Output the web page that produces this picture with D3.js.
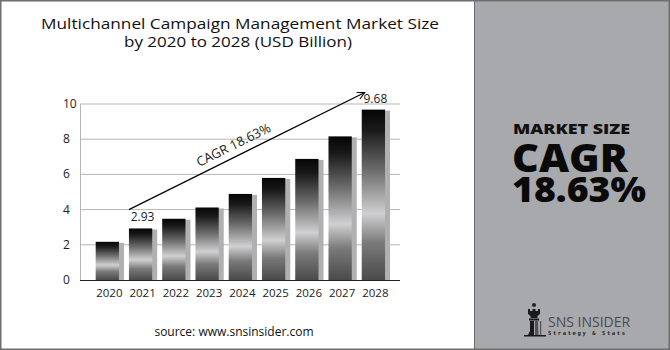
<!DOCTYPE html>
<html>
<head>
<meta charset="utf-8">
<script src="https://cdn.jsdelivr.net/npm/d3@7"></script>
<style>
  body { margin: 0; background: #fff; }
  svg { display: block; }
</style>
</head>
<body>
<div id="chart"></div>
<script>
// chart data
var years = ["2020", "2021", "2022", "2023", "2024", "2025", "2026", "2027", "2028"];
var marketSize = [2.17, 2.93, 3.48, 4.12, 4.89, 5.80, 6.88, 8.16, 9.68];
var yTicks = [0, 2, 4, 6, 8, 10];
var labelled = {"2021": "2.93", "2028": "9.68"};
var cagrText = "CAGR 18.63%";

var width = 670, height = 350;

var svg = d3.select("#chart")
  .append("svg")
    .attr("width", width)
    .attr("height", height);

var defs = svg.append("defs");

// bar shading: black on top, light band lower down, grey at the base
var grad = defs.append("linearGradient")
    .attr("id", "barGrad")
    .attr("x1", 0).attr("y1", 0).attr("x2", 0).attr("y2", 1);
grad.append("stop").attr("offset", "0%").attr("stop-color", "#050505");
grad.append("stop").attr("offset", "12%").attr("stop-color", "#1a1a1a");
grad.append("stop").attr("offset", "35%").attr("stop-color", "#6a6a6a");
grad.append("stop").attr("offset", "61%").attr("stop-color", "#d0d0d2");
grad.append("stop").attr("offset", "78%").attr("stop-color", "#7a7a7a");
grad.append("stop").attr("offset", "100%").attr("stop-color", "#4a4a4a");

defs.append("marker")
    .attr("id", "arrowHead")
    .attr("viewBox", "0 0 10 10")
    .attr("refX", 9).attr("refY", 5)
    .attr("markerWidth", 9).attr("markerHeight", 9)
    .attr("markerUnits", "userSpaceOnUse")
    .attr("orient", "auto")
  .append("path")
    .attr("d", "M1,1 L9,5 L1,9")
    .attr("fill", "none")
    .attr("stroke", "#000")
    .attr("stroke-width", 1.2);

// scales
var x = d3.scaleBand()
    .domain(years)
    .range([85.7, 395])
    .paddingInner(0.3)
    .paddingOuter(0.3);

var y = d3.scaleLinear()
    .domain([0, 10])
    .range([280, 104]);

// grid lines
svg.append("g")
  .selectAll("line")
  .data(yTicks.filter(function(d) { return d > 0; }))
  .enter()
  .append("line")
    .attr("x1", 80).attr("x2", 400)
    .attr("y1", function(d) { return y(d); })
    .attr("y2", function(d) { return y(d); })
    .attr("stroke", "#b5b5b5")
    .attr("stroke-width", 1);

// y axis line
svg.append("line")
    .attr("x1", 80.5).attr("x2", 80.5)
    .attr("y1", y(10)).attr("y2", y(0))
    .attr("stroke", "#b5b5b5");

// y tick labels
svg.append("g")
  .selectAll("text")
  .data(yTicks)
  .enter()
  .append("text")
    .attr("x", 63)
    .attr("y", function(d) { return y(d) + 4; })
    .attr("font-family", "'Open Sans', sans-serif")
    .attr("font-size", "12px")
    .attr("fill", "#222")
    .text(function(d) { return d; });

var rows = years.map(function(yr, i) { return {year: yr, value: marketSize[i]}; });

// bar shadows
svg.append("g")
  .selectAll("rect")
  .data(rows)
  .enter()
  .append("rect")
    .attr("x", function(d) { return x(d.year) + 4; })
    .attr("y", function(d) { return y(d.value) + 1; })
    .attr("width", x.bandwidth() + 1)
    .attr("height", function(d) { return y(0) - y(d.value) - 1; })
    .attr("fill", "#b0b0b2");

// bars
svg.append("g")
  .selectAll("rect")
  .data(rows)
  .enter()
  .append("rect")
    .attr("x", function(d) { return x(d.year); })
    .attr("y", function(d) { return y(d.value); })
    .attr("width", x.bandwidth())
    .attr("height", function(d) { return y(0) - y(d.value); })
    .attr("fill", "url(#barGrad)");

// baseline
svg.append("line")
    .attr("x1", 80).attr("x2", 400)
    .attr("y1", y(0) + 0.5).attr("y2", y(0) + 0.5)
    .attr("stroke", "#222")
    .attr("stroke-width", 1.2);

// year labels
svg.append("g")
  .selectAll("text")
  .data(years)
  .enter()
  .append("text")
    .attr("x", function(d) { return x(d) + x.bandwidth() / 2 + 2; })
    .attr("y", 297)
    .attr("text-anchor", "middle")
    .attr("font-family", "'Open Sans', sans-serif")
    .attr("font-size", "11.5px")
    .attr("fill", "#222")
    .text(function(d) { return d; });

// value labels on first and last
svg.append("g")
  .selectAll("text")
  .data(rows.filter(function(d) { return labelled[d.year]; }))
  .enter()
  .append("text")
    .attr("x", function(d) { return x(d.year) + x.bandwidth() / 2 + 2; })
    .attr("y", function(d) { return y(d.value) - 7; })
    .attr("text-anchor", "middle")
    .attr("font-family", "'Open Sans', sans-serif")
    .attr("font-size", "12px")
    .attr("fill", "#222")
    .text(function(d) { return labelled[d.year]; });

// CAGR arrow
var ax1 = x("2021"), ay1 = y(4.0),
    ax2 = x("2028") + 3, ay2 = y(10.65);
svg.append("line")
    .attr("x1", ax1).attr("y1", ay1)
    .attr("x2", ax2).attr("y2", ay2)
    .attr("stroke", "#000")
    .attr("stroke-width", 1.2)
    .attr("marker-end", "url(#arrowHead)");

var angle = Math.atan2(ay2 - ay1, ax2 - ax1) * 180 / Math.PI;
svg.append("text")
    .attr("transform", "translate(" + (ax1 + (ax2 - ax1) * 0.465) + "," + (ay1 + (ay2 - ay1) * 0.465) + ") rotate(" + angle + ")")
    .attr("y", -7)
    .attr("text-anchor", "middle")
    .attr("font-family", "'Open Sans', sans-serif")
    .attr("font-size", "13px")
    .attr("fill", "#222")
    .text(cagrText);

// title
var title = svg.append("text")
    .attr("text-anchor", "middle")
    .attr("font-family", "'Open Sans', sans-serif")
    .attr("font-size", "15px")
    .attr("fill", "#111");
title.append("tspan").attr("x", 240).attr("y", 28.5)
    .attr("textLength", 398).attr("lengthAdjust", "spacingAndGlyphs")
    .text("Multichannel Campaign Management Market Size");
title.append("tspan").attr("x", 238).attr("y", 47)
    .attr("textLength", 228).attr("lengthAdjust", "spacingAndGlyphs")
    .text("by 2020 to 2028 (USD Billion)");

// source
svg.append("text")
    .attr("x", 234).attr("y", 336)
    .attr("text-anchor", "middle")
    .attr("font-family", "'Open Sans', sans-serif")
    .attr("font-size", "12px")
    .attr("fill", "#111")
    .text("source: www.snsinsider.com");

// right panel
svg.append("rect")
    .attr("x", 474).attr("y", 0)
    .attr("width", width - 474).attr("height", height)
    .attr("fill", "#a8a9ad");
svg.append("line")
    .attr("x1", 474.5).attr("x2", 474.5)
    .attr("y1", 0).attr("y2", height)
    .attr("stroke", "#6a6a6a")
    .attr("stroke-width", 1);

svg.append("text")
    .attr("x", 571.5).attr("y", 134)
    .attr("text-anchor", "middle")
    .attr("font-family", "'Open Sans', sans-serif")
    .attr("font-weight", 800)
    .attr("font-size", "14px")
    .attr("textLength", 117).attr("lengthAdjust", "spacingAndGlyphs")
    .attr("fill", "#111")
    .text("MARKET SIZE");
svg.append("text")
    .attr("x", 570).attr("y", 172)
    .attr("text-anchor", "middle")
    .attr("font-family", "'Open Sans', sans-serif")
    .attr("font-weight", 800)
    .attr("font-size", "38px")
    .attr("textLength", 116).attr("lengthAdjust", "spacingAndGlyphs")
    .attr("fill", "#0a0a0a")
    .text("CAGR");
svg.append("text")
    .attr("x", 579).attr("y", 202)
    .attr("text-anchor", "middle")
    .attr("font-family", "'Open Sans', sans-serif")
    .attr("font-weight", 800)
    .attr("font-size", "35px")
    .attr("textLength", 134).attr("lengthAdjust", "spacingAndGlyphs")
    .attr("fill", "#0a0a0a")
    .text("18.63%");

// logo (rook + name)
var logo = svg.append("g").attr("transform", "translate(525,303)");
logo.append("circle").attr("cx", 9).attr("cy", 2).attr("r", 2).attr("fill", "#222");
logo.append("path")
    .attr("d", "M3,6 L5,6 L5,8 L7.5,8 L7.5,6 L10.5,6 L10.5,8 L13,8 L13,6 L15,6 L15,11 L12.5,13 L12.5,15 L5.5,15 L5.5,13 L3,11 Z")
    .attr("fill", "#1a1a1a");
logo.append("rect").attr("x", 4).attr("y", 15.5).attr("width", 10).attr("height", 2).attr("fill", "#1a1a1a");
logo.append("path")
    .attr("d", "M5,18 L9,18 L9,32 L3,32 L5,28 Z")
    .attr("fill", "#1a1a1a");
logo.append("path")
    .attr("d", "M10,18 L13,18 L13.5,32 L10,32 Z")
    .attr("fill", "#555");
logo.append("rect").attr("x", -1).attr("y", 32).attr("width", 22).attr("height", 1.5).attr("fill", "#1a1a1a");
logo.append("rect").attr("x", 15).attr("y", 18).attr("width", 1.2).attr("height", 14).attr("fill", "#555");

svg.append("text")
    .attr("x", 548).attr("y", 327)
    .attr("font-family", "'Open Sans', sans-serif")
    .attr("font-size", "14px")
    .attr("fill", "#4a4a4e")
    .text("SNS INSIDER");
svg.append("text")
    .attr("x", 548).attr("y", 335)
    .attr("font-family", "'DejaVu Sans Mono', monospace")
    .attr("font-weight", "bold")
    .attr("font-size", "5.5px")
    .attr("letter-spacing", "1.6px")
    .attr("fill", "#222")
    .text("Strategy & Stats");

// outer border
svg.append("rect")
    .attr("x", 0.75).attr("y", 0.75)
    .attr("width", width - 1.5).attr("height", height - 1.5)
    .attr("fill", "none")
    .attr("stroke", "#6e6e6e")
    .attr("stroke-width", 1.5);
</script>
</body>
</html>
